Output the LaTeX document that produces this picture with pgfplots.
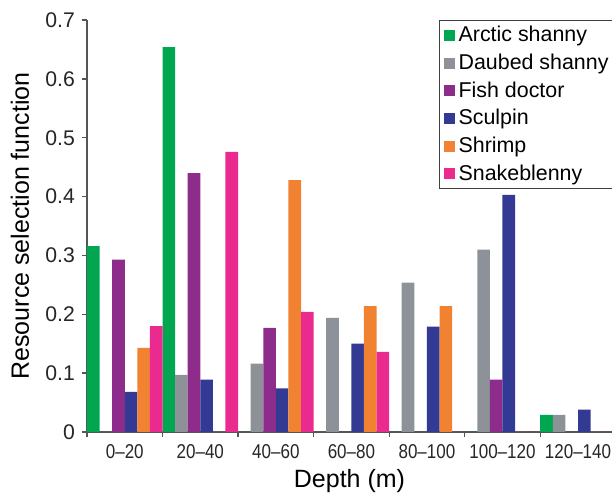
\documentclass[border=0pt]{standalone}
\usepackage{fontspec}
\setmainfont{Liberation Sans}
\usepackage{pgfplots}
\pgfplotsset{compat=1.18}
\usepackage{pgfplotstable}
\definecolor{cArctic}{HTML}{00A650}
\definecolor{cDaubed}{HTML}{8C9297}
\definecolor{cFish}{HTML}{8E2C8B}
\definecolor{cSculpin}{HTML}{333A94}
\definecolor{cShrimp}{HTML}{F08232}
\definecolor{cSnake}{HTML}{EA2A8E}
\definecolor{axgray}{HTML}{555555}
\pgfplotstableread{
x arctic daubed fish sculpin shrimp snake
0.5 0.316 0 0.293 0.068 0.143 0.180
1.5 0.654 0.097 0.440 0.089 0 0.476
2.5 0 0.116 0.177 0.074 0.428 0.204
3.5 0 0.194 0 0.150 0.214 0.136
4.5 0 0.254 0 0.179 0.214 0
5.5 0 0.310 0.089 0.403 0 0
6.5 0.029 0.029 0 0.038 0 0
}\data
\begin{document}
\begin{tikzpicture}
\begin{axis}[
  at={(0,0)}, anchor=south west,
  scale only axis, width=262.5pt, height=206pt,
  xmin=0, xmax=6.95, ymin=0, ymax=0.7,
  axis x line*=bottom, axis y line*=left,
  x axis line style={-, draw=axgray, line width=0.65pt},
  y axis line style={-, draw=axgray, line width=0.65pt},
  ybar, bar width=0.1667, bar shift=0pt,
  ytick={0,0.1,0.2,0.3,0.4,0.5,0.6,0.7},
  yticklabel style={/pgf/number format/fixed, /pgf/number format/precision=1, font=\fontsize{10.6}{12}\selectfont},
  /pgf/number format/assume math mode=true,
  xtick={0.5,1.5,2.5,3.5,4.5,5.5,6.5},
  xticklabels={\scalebox{0.85}[1]{0--20},\scalebox{0.85}[1]{20--40},\scalebox{0.85}[1]{40--60},\scalebox{0.85}[1]{60--80},\scalebox{0.85}[1]{80--100},\scalebox{0.85}[1]{100--120},\scalebox{0.85}[1]{120--140}},
  major tick length=2.5pt,
  minor xtick={0,1,2,3,4,5,6,7},
  minor tick length=2.5pt,
  tick align=outside,
  tick style={draw=axgray, line width=0.65pt},
  major x tick style={draw=none},
  ticklabel style={font=\fontsize{10}{12}\selectfont, text=black!85},
  every axis y label/.style={at={(rel axis cs:0,0.5)}, xshift=-33.5pt, rotate=90, anchor=center, font=\fontsize{12.5}{15}\selectfont},
  every axis x label/.style={at={(rel axis cs:0.5,0)}, yshift=-24.5pt, anchor=center, font=\fontsize{12.5}{15}\selectfont},
  ylabel={Resource selection function},
  xlabel={Depth (m)},
  legend cell align=left,
  legend image code/.code={\path[#1, draw=none] (0pt,-2.75pt) rectangle (5.5pt,2.75pt);},
  legend style={at={(rel axis cs:0.6705,1)}, anchor=north west, draw=black!75, line width=0.6pt,
    font=\fontsize{10.7}{12.5}\selectfont, row sep=0.6pt, inner xsep=2pt, inner ysep=0.8pt},
]
\addplot[fill=cArctic, draw=none] table[x expr=\thisrow{x}-0.41667, y=arctic] {\data};
\addplot[fill=cDaubed, draw=none] table[x expr=\thisrow{x}-0.25, y=daubed] {\data};
\addplot[fill=cFish, draw=none] table[x expr=\thisrow{x}-0.08333, y=fish] {\data};
\addplot[fill=cSculpin, draw=none] table[x expr=\thisrow{x}+0.08333, y=sculpin] {\data};
\addplot[fill=cShrimp, draw=none] table[x expr=\thisrow{x}+0.25, y=shrimp] {\data};
\addplot[fill=cSnake, draw=none] table[x expr=\thisrow{x}+0.41667, y=snake] {\data};
\legend{Arctic shanny, Daubed shanny, Fish doctor, Sculpin, Shrimp, Snakeblenny}
\end{axis}
\pgfresetboundingbox
\path (-43.5pt,-30.5pt) rectangle (262.5pt,216pt);
\end{tikzpicture}
\end{document}
